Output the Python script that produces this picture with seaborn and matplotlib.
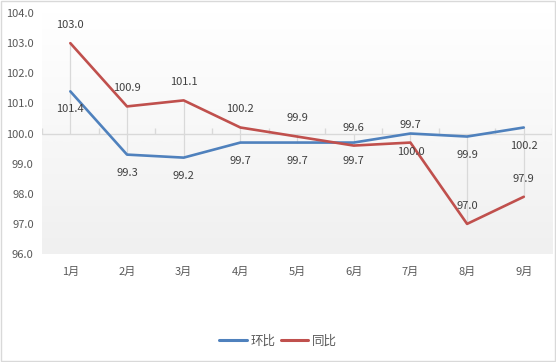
import numpy as np
import pandas as pd
import matplotlib
matplotlib.use("Agg")
import matplotlib.pyplot as plt
import seaborn as sns

months = ['1月', '2月', '3月', '4月', '5月', '6月', '7月', '8月', '9月']
huanbi = [101.4, 99.3, 99.2, 99.7, 99.7, 99.7, 100.0, 99.9, 100.2]
tongbi = [103.0, 100.9, 101.1, 100.2, 99.9, 99.6, 99.7, 97.0, 97.9]
series_names = ['环比', '同比']

df = pd.DataFrame({
    'x': list(range(len(months))) * 2,
    'value': huanbi + tongbi,
    'series': [series_names[0]] * len(months) + [series_names[1]] * len(months),
})

sns.set_style("white")
plt.rcParams['font.family'] = ['Noto Sans CJK SC', 'DejaVu Sans']

blue = '#4f81bd'
red = '#c0504d'
text_color = '#595959'

fig = plt.figure(figsize=(5.56, 3.62), dpi=100)
ax = fig.add_axes([0.0755, 0.2983, 0.9175, 0.6657])

# gradient background of the plot area
grad = np.linspace(1.0, 0.0, 256).reshape(-1, 1)
ax.imshow(grad, extent=[0, 1, 0, 1], transform=ax.transAxes, aspect='auto',
          cmap=matplotlib.colors.LinearSegmentedColormap.from_list('g', ['#f0f0f0', '#ffffff']),
          zorder=0)

# drop lines to the category axis (crossing at 100)
for i in range(len(months)):
    lo = min(huanbi[i], tongbi[i], 100.0)
    hi = max(huanbi[i], tongbi[i], 100.0)
    ax.vlines(i, lo, hi, color='#d9d9d9', lw=0.9, zorder=1)

# category axis at 100 with tick marks between categories
ax.axhline(100, color='#d9d9d9', lw=1.0, zorder=1)
for b in np.arange(-0.5, len(months), 1.0):
    ax.vlines(b, 100, 100.17, color='#d9d9d9', lw=1.0, zorder=1)

sns.lineplot(data=df, x='x', y='value', hue='series', palette=[blue, red],
             linewidth=1.9, ax=ax, legend=False, zorder=3)

for i in range(len(months)):
    ax.annotate(f'{tongbi[i]:.1f}', (i, tongbi[i]), xytext=(0, 13),
                textcoords='offset points', ha='center', va='center',
                fontsize=8, color='#404040', zorder=4)
    ax.annotate(f'{huanbi[i]:.1f}', (i, huanbi[i]), xytext=(0, -13),
                textcoords='offset points', ha='center', va='center',
                fontsize=8, color='#404040', zorder=4)

ax.set_xlim(-0.5, len(months) - 0.5)
ax.set_ylim(96, 104)
ax.set_yticks(np.arange(96, 104.1, 1.0))
ax.set_yticklabels([f'{v:.1f}' for v in np.arange(96, 104.1, 1.0)])
ax.set_xticks(range(len(months)))
ax.set_xticklabels(months)
ax.tick_params(axis='both', length=0, labelsize=8, labelcolor=text_color)
ax.tick_params(axis='x', pad=9)
ax.tick_params(axis='y', pad=6)
ax.set_xlabel('')
ax.set_ylabel('')
for s in ax.spines.values():
    s.set_visible(False)

handles = [plt.Line2D([], [], color=blue, lw=2.2), plt.Line2D([], [], color=red, lw=2.2)]
fig.legend(handles, series_names, loc='center', bbox_to_anchor=(0.5, 0.058), ncol=2,
           frameon=False, fontsize=9, handlelength=2.2, handletextpad=0.3,
           columnspacing=0.4, labelcolor=text_color)

# chart border
fig.patches.append(plt.Rectangle((0.001, 0.002), 0.997, 0.995, transform=fig.transFigure,
                                 fill=False, edgecolor='#d9d9d9', lw=1.0))

fig.savefig('out.png', dpi=100)
